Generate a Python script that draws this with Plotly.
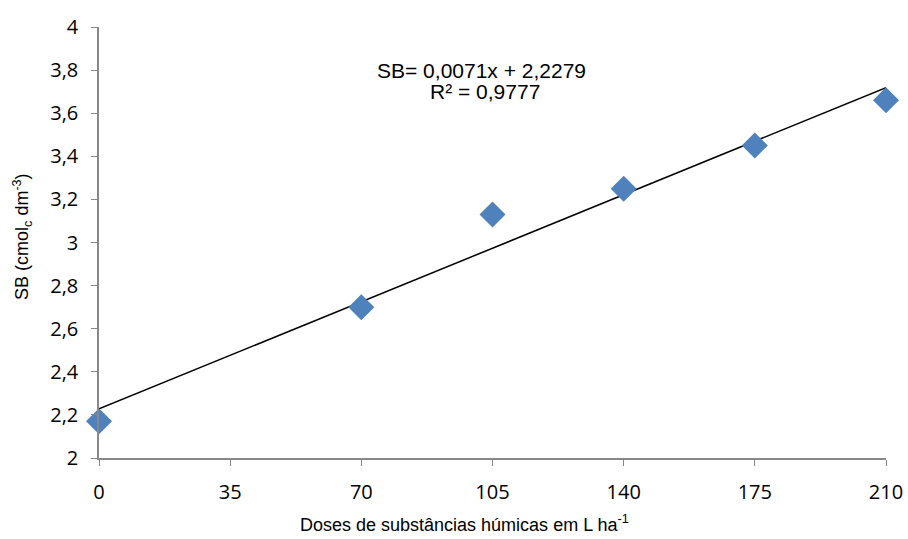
import plotly.graph_objects as go

doses = [0, 70, 105, 140, 175, 210]
sb = [2.17, 2.70, 3.13, 3.25, 3.45, 3.66]
slope = 0.0071
intercept = 2.2279
x_ticks = [0, 35, 70, 105, 140, 175, 210]
y_ticks = [2, 2.2, 2.4, 2.6, 2.8, 3, 3.2, 3.4, 3.6, 3.8, 4]
y_tick_labels = ["2", "2,2", "2,4", "2,6", "2,8", "3", "3,2", "3,4", "3,6", "3,8", "4"]

trend_x = [min(doses), max(doses)]
trend_y = [slope * v + intercept for v in trend_x]

fig = go.Figure()
fig.add_trace(go.Scatter(x=trend_x, y=trend_y, mode="lines",
                         line=dict(color="black", width=1.5), showlegend=False, hoverinfo="skip"))
fig.add_trace(go.Scatter(x=doses, y=sb, mode="markers",
                         marker=dict(symbol="diamond", size=20, color="#4F81BD",
                                     line=dict(width=0)), showlegend=False, cliponaxis=False))

ann_font = dict(family="Liberation Sans, Arial", size=21, color="black")
fig.add_annotation(x=102, xref="x", y=3.80, yref="y", text="SB= 0,0071x + 2,2279",
                   showarrow=False, font=ann_font, xanchor="center", yanchor="middle")
fig.add_annotation(x=103, xref="x", y=3.703, yref="y", text="R² = 0,9777",
                   showarrow=False, font=ann_font, xanchor="center", yanchor="middle")

title_font = dict(family="Liberation Sans, Arial", size=18, color="black")
fig.add_annotation(x=0.464, xref="paper", y=-0.153, yref="paper",
                   text="Doses de substâncias húmicas em L ha<sup>-1</sup>",
                   showarrow=False, font=title_font, xanchor="center", yanchor="middle")
fig.add_annotation(x=-0.098, xref="paper", y=0.515, yref="paper",
                   text="SB (cmol<sub>c</sub> dm<sup>-3</sup>)", textangle=-90,
                   showarrow=False, font=title_font, xanchor="center", yanchor="middle")

tick_font = dict(family="Open Sans", size=20, color="black")
fig.update_layout(
    width=908, height=539,
    margin=dict(l=99, r=22, t=27, b=81, autoexpand=False),
    plot_bgcolor="white", paper_bgcolor="white",
    xaxis=dict(range=[0, 210], tickvals=x_ticks, ticktext=[str(v) for v in x_ticks],
               showgrid=False, zeroline=False, showline=True, linecolor="#888888", linewidth=1.5,
               ticks="outside", ticklen=6, tickcolor="#888888", tickfont=tick_font,
               ticklabelstandoff=9, automargin=False),
    yaxis=dict(range=[2, 4], tickvals=y_ticks, ticktext=y_tick_labels,
               showgrid=False, zeroline=False, showline=True, linecolor="#888888", linewidth=1.5,
               ticks="outside", ticklen=6, tickcolor="#888888", tickfont=tick_font,
               ticklabelstandoff=9, automargin=False),
)

fig.write_html("out.html")
